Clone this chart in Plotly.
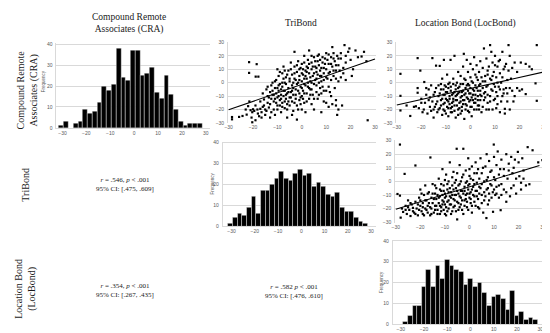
import plotly.graph_objects as go

W, H = 550, 333

# ---------------- data ----------------
cra_bins = [-30.5, -28.5, -26.5, -24.5, -22.5, -20.5, -18.5, -16.5, -14.5, -12.5,
            -10.5, -8.5, -6.5, -4.5, -2.5, -0.5, 1.5, 3.5, 5.5, 7.5,
            9.5, 11.5, 13.5, 15.5, 17.5, 19.5, 21.5, 23.5, 25.5, 27.5]
cra_counts = [1, 3, 0, 2, 3, 9, 7, 8, 12, 20, 18, 21, 38, 24, 23, 37, 37, 25, 26, 29,
              17, 14, 25, 16, 9, 3, 1, 2, 2, 2]

tri_bins = [-30.5, -28.5, -26.5, -24.5, -22.5, -20.5, -18.5, -16.5, -14.5, -12.5,
            -10.5, -8.5, -6.5, -4.5, -2.5, -0.5, 1.5, 3.5, 5.5, 7.5,
            9.5, 11.5, 13.5, 15.5, 17.5, 19.5, 21.5, 23.5, 25.5, 27.5]
tri_counts = [1, 4, 6, 5, 9, 14, 6, 17, 17, 20, 23, 26, 23, 22, 25, 27, 24, 25, 19, 21,
              19, 15, 14, 16, 9, 7, 7, 4, 2, 1]

loc_bins = [-28, -26, -24, -22, -20, -18, -16, -14, -12, -10, -8, -6, -4, -2, 0,
            2, 4, 6, 8, 10, 12, 14, 16, 18, 20, 22, 24, 26, 28]
loc_counts = [1, 4, 9, 9, 18, 26, 18, 28, 22, 31, 28, 26, 25, 19, 22, 18, 20, 15, 9, 13,
              14, 12, 7, 16, 4, 6, 2, 3, 2]

# CRA (x) vs TriBond (y)
cra_tri_points = [
    (-30.7, -12), (-28.6, -25.6), (-28.6, -27.3), (-25.7, -25.5), (-24.3, -24.8), (-23, -20),
    (-22.6, -23.8), (-22, -17.5), (-21.6, 15.3), (-21.6, 7.3), (-21.5, -14), (-21, -20.5),
    (-20.6, -26), (-20.3, -29.5), (-20.3, -22), (-20, -19.8), (-19.5, -21), (-19, -28),
    (-18.9, 4.5), (-18.5, 13.8), (-18.2, -20), (-17.8, 4.5), (-17.5, -25), (-17, -19.5),
    (-16.5, -22), (-16, -18), (-16, -8), (-15.5, -12.5), (-15, -20), (-15, -24), (-14.5, -5),
    (-14, -10), (-14, -15), (-13.5, -18.5), (-13, -26), (-13, -7), (-12.5, -2), (-12.5, -12),
    (-12, 0), (-12, -9), (-11.5, -14), (-11.5, -20), (-11, -4), (-11, -24), (-10.5, -8),
    (-10.5, 2), (-10, 10), (-10, -11), (-10, -17), (-9.5, -6), (-9.5, 5), (-9, -13), (-9, -1),
    (-8.5, -9), (-8.5, -22), (-8, 7), (-8, -3), (-8, -15), (-7.5, -10), (-7.5, 12), (-7, -6),
    (-7, 0), (-7, -19), (-6.5, -12), (-6.5, 4), (-6, -8), (-6, -26), (-6, -16), (-5.5, 9),
    (-5.5, -4), (-5, -11), (-5, 1), (-4.5, -7), (-4.5, 15), (-4, -14), (-4, -2), (-4, 6),
    (-3.5, -21), (-3.5, -9), (-3, 12), (-3, 3), (-3, 23), (-2.5, -5), (-2.5, -12), (-2, 8),
    (-2, -17), (-2, -27.5), (-1.5, 0), (-1.5, 16), (-1, -8), (-1, -13), (-1, 5), (-0.5, 11),
    (-0.5, -3), (0, 1), (0, -10), (0, -20), (0, 14), (0.5, 6), (0.5, -6), (1, -1), (1, -15),
    (1, 20), (1.5, 9), (1.5, -22), (2, 3), (2, -8), (2, 12), (2.5, -3), (2.5, 17), (3, 7),
    (3, -12), (3, 24), (3.5, 1), (3.5, -5), (4, 10), (4, 15), (4, -16), (4.5, 5), (4.5, -9),
    (5, -1), (5, 19), (5, -20), (5.5, 12), (6, 3), (6, 8), (6, -7), (6.5, 16), (6.5, -12),
    (7, 0), (7, 21), (7.5, 5), (7.5, -4), (8, 11), (8, -8), (8, -22), (8.5, 15), (9, 2),
    (9, 7), (9, -14), (9.5, 18), (10, 10), (10, -6), (10, 22), (10.5, 3), (11, 14), (11, -3),
    (11, -18), (11.5, 8), (12, 19), (12, -10), (12.5, 12), (12.5, 26.5), (13, 5), (13, 22),
    (13.5, 16), (14, -13), (14, -17), (14, 9), (14.5, -24), (14.5, 20), (15, 13), (15, 1),
    (16, 18), (16.5, -17), (17, 7), (17.5, 28), (18, 15), (19, 23), (19.5, 25.5), (20.5, 5),
    (23, 19), (24.5, 19.5), (25.5, 23), (26.5, 16), (27, -28),
    (-19, -17), (-18, -23), (-17, -14), (-16.5, -26), (-15.5, -17), (-14.5, -21), (-14, -3),
    (-13.5, -11), (-13, -16), (-12.5, -22), (-12, -6), (-11.5, -9), (-11, -12), (-11, 1),
    (-10.5, -15), (-10, -4), (-10, -20), (-9.5, -10), (-9.5, -2), (-9, -17), (-9, 8),
    (-8.5, -5), (-8.5, -12), (-8, 0), (-8, -18), (-7.5, -6), (-7.5, 3), (-7, -14), (-7, 9),
    (-6.5, -9), (-6.5, -1), (-6, -20), (-6, 6), (-5.5, -14), (-5.5, -7), (-5, 3), (-5, -17),
    (-4.5, -11), (-4.5, 10), (-4, -6), (-4, -24), (-3.5, 0), (-3.5, -4), (-3, -15), (-3, 7),
    (-2.5, -9), (-2.5, 2), (-2, -1), (-2, 13), (-1.5, -6), (-1.5, -20), (-1, 2), (-1, 10),
    (-0.5, -11), (-0.5, -16), (0, 7), (0, -4), (0.5, 10), (0.5, -12), (1, 3), (1, -8), (1, 15),
    (1.5, -2), (1.5, 5), (2, -14), (2, 8), (2.5, 0), (2.5, 11), (3, -4), (3, 14), (3.5, -9),
    (3.5, 4), (4, 0), (4, -5), (4, 20), (4.5, 12), (5, 7), (5, -12), (5.5, 2), (5.5, 16),
    (6, -2), (6, 11), (6.5, 6), (6.5, 20), (7, -9), (7, 13), (7.5, 9), (7.5, 17), (8, 1),
    (8, 5), (8.5, -3), (8.5, 19), (9, 11), (9, -6), (9.5, 14), (10, 4), (10, -15), (10.5, 17),
    (11, 7), (11, 21), (11.5, -7), (12, 2), (12, 14), (12.5, -16), (13, 9), (13, 18),
    (13.5, -4), (14, 3), (14, 13), (15, 18), (15, -20), (15.5, 9), (16, 4), (16, 22), (17, 11),
    (18, 20), (18, 2), (20, 17), (21, 10), (22, 24),
]

# CRA (x) vs LocBond (y)
cra_loc_points = [
    (-30.7, -13.4), (-28.5, 6.6), (-28.5, -9.8), (-28.5, -20.7), (-26, -17), (-24.5, -24.8),
    (-23, -18), (-22.2, -17.6), (-21.5, 18.3), (-21.5, -4), (-21.5, -7.5), (-21, -19),
    (-20.4, 9), (-20, -12), (-19.5, -22), (-18.8, 0.5), (-18.5, -15), (-18, -9), (-17.5, -23),
    (-17, -5), (-16.5, -18), (-16.5, -11), (-16, -2), (-15.5, 18.3), (-15.5, -14), (-15, -20),
    (-15, -26), (-14.5, -7), (-14, 12.7), (-14, -16), (-13.5, -22), (-13, -10), (-13, -2),
    (-12.5, -19), (-12.5, 12.5), (-12, -13), (-12, -5), (-11.5, -24), (-11.5, 3), (-11, -9),
    (-11, -16), (-10.8, 17), (-10.5, -2), (-10.5, -21), (-10, -12), (-10, -7), (-9.5, -18),
    (-9.5, 6), (-9, -4), (-9, -14), (-9, -25), (-8.5, -10), (-8.5, 0), (-8.1, 17), (-8, -19),
    (-8, -6), (-7.5, -15), (-7.5, -22), (-7, -8), (-7, 3), (-7, -12), (-6.5, 20), (-6.5, -17),
    (-6, -5), (-6, -10), (-6, -26), (-5.5, -13), (-5.5, 0), (-5, -20), (-5, 8), (-5, -8),
    (-4.5, -3), (-4.5, -15), (-4, -11), (-4, 5), (-4, -23), (-3.5, -7), (-3.5, -18), (-3, 12),
    (-3, -1), (-3, -13), (-2.7, 21.5), (-2.5, -9), (-2.5, -27), (-2, -4), (-2, -16), (-2, 2),
    (-1.5, -11), (-1.5, 17), (-1, -6), (-1, -21), (-1, 8), (-0.5, -2), (-0.5, -14), (0, -8),
    (0, 4), (0, -18), (0, 14), (0.5, -11), (0.5, -25), (1, 0), (1, -5), (1, 10), (1.5, -15),
    (1.5, 19), (2, -2), (2, 6), (2, -9), (2.5, -20), (2.5, 13), (3, -6), (3, 2), (3, -13),
    (3.5, 8), (3.5, -17), (4, -1), (4, 16), (4, -9), (4.5, 4), (4.5, -22), (5, -4), (5, 11),
    (5.5, 25.5), (5.5, -13), (6, 1), (6, -7), (6.5, 18), (6.5, -20), (7, 6), (7, -2), (7, -15),
    (7.5, 12), (8, 28), (8, -10), (8, 3), (8.5, 23), (8.5, -5), (9, 15), (9, -20), (9.5, 8),
    (9.5, -1), (10, -12), (10, 20), (10.5, 4), (10.5, -7), (11, 12), (11, -16), (11.5, -3),
    (12, 17), (12, 7), (12, -22), (12.5, 0), (13, 23), (13, -10), (13.5, 10), (13.5, -5),
    (14, -19.5), (14, -23), (14.5, 14), (15, 2), (15, -8), (15.5, 28), (16, 20), (16, -4),
    (17, 11), (17.5, -14), (18, 15), (19, -4), (20.5, 15), (21, -5), (22.5, 14), (22.5, -8.5),
    (24, 12), (25, 10), (26.5, -0.5), (27, -13.5), (27, 28),
    (-20, -15), (-19, -20), (-18, -4), (-17, -13), (-16, -21), (-15, -9), (-14.5, -18),
    (-14, -4), (-13.5, -14), (-13, -20), (-12.5, -8), (-12, -17), (-12, -1), (-11.5, -12),
    (-11, -20), (-11, -5), (-10.5, -15), (-10.5, -9), (-10, -23), (-10, -3), (-9.5, -13),
    (-9.5, -7), (-9, -19), (-9, -1), (-8.5, -16), (-8.5, -12), (-8, -3), (-8, -22), (-7.5, -9),
    (-7.5, -18), (-7, -14), (-7, -1), (-6.5, -7), (-6.5, -21), (-6, -13), (-6, -2), (-5.5, -17),
    (-5.5, -9), (-5, -24), (-5, -4), (-4.5, -19), (-4.5, -7), (-4, -14), (-4, -1), (-3.5, -10),
    (-3.5, -21), (-3, -6), (-3, -16), (-2.5, -13), (-2.5, 3), (-2, -8), (-2, -20), (-1.5, -2),
    (-1.5, -17), (-1, -12), (-1, -1), (-0.5, -8), (-0.5, -22), (0, -4), (0, -13), (0.5, -18),
    (0.5, 1), (1, -9), (1, -13), (1.5, -6), (1.5, -20), (2, -15), (2, -12), (2.5, -4), (2.5, 4),
    (3, -10), (3, -17), (3.5, -2), (3.5, -20), (4, -6), (4, -13), (4.5, -10), (5, 1), (5, -18),
    (5.5, -8), (6, -11), (6, 5), (6.5, -3), (7, -9), (7, 9), (7.5, -20), (8, -14), (8.5, 2),
    (9, -6), (9, 5), (9.5, -13), (10, -3), (10, 13), (10.5, -19), (11, 0), (11, -10),
    (11.5, 16), (12, -5), (12.5, -14), (13, 4), (13.5, -8), (14, 12), (14.5, -4), (15, -14),
    (15.5, 9), (16, -20), (16.5, 3), (17, -6), (18, -10), (19, 8), (20, -6),
]

# TriBond (x) vs LocBond (y)
tri_loc_points = [
    (-29.3, -9.3), (-28.3, -10.5), (-28.3, 27.1), (-28, -26.7), (-27.5, -20), (-27, -22.5),
    (-26.4, 5.5), (-26, -18), (-25.5, -24), (-25, -14), (-24.5, -21), (-24, -25.5),
    (-23.5, -17), (-23, -19.5), (-22.5, -23), (-22, 11.7), (-22, -15), (-21.5, -20), (-21, -25),
    (-20.5, -12), (-20, -18), (-20, -6), (-19.5, -22), (-19, -16), (-19, -24), (-18.5, -10),
    (-18, -20), (-18, -3), (-17.5, -14), (-17, -23), (-17, -18), (-16.5, -8), (-16, -25),
    (-15.9, 17.6), (-15.5, -12), (-15.5, -20), (-15, -16), (-15, -2), (-14.5, -23), (-14, -9),
    (-14, -18), (-13.5, -13), (-13.5, -5), (-13, -21), (-12.5, -16), (-12.5, 2), (-12, -11),
    (-12, -24), (-11.5, -7), (-11.5, -19), (-11, -14), (-11, 9), (-10.5, -21), (-10.5, -3),
    (-10, -9), (-10, -12), (-10, -17), (-9.5, 5), (-9.5, -25), (-9, -6), (-9, -15), (-8.5, -20),
    (-8.5, 0), (-8, -11), (-8, 14), (-7.5, -8), (-7.5, -17), (-7, -3), (-7, -22), (-6.5, -13),
    (-6.5, 7), (-6, -10), (-6, -18), (-5.5, -5), (-5.5, 1), (-5.2, 24), (-5, -15), (-5, -28),
    (-4.5, -9), (-4.5, -21), (-4, -2), (-4, 12), (-3.5, -12), (-3.5, -17), (-3, 3), (-3, -7),
    (-2.5, 24), (-2.5, -24), (-2, -4), (-2, -14), (-1.5, 8), (-1.5, -10), (-1, -19), (-1, 0),
    (-0.5, -6), (-0.5, 17), (0, -12), (0, 4), (0, -2), (0.5, -16), (0.5, -8), (1, 11),
    (1, -23), (1.5, -4), (1.5, 1), (2, -11), (2, 6), (2.5, -18), (2.5, 14), (3, -1), (3, -7),
    (3.5, 9), (3.5, -13), (4, 2), (4, -20), (4.5, -5), (4.5, 17), (5, -10), (5, 6),
    (5.6, -23), (6, 0), (6, -14), (6.5, 11), (6.9, -27), (7, -6), (7, 20), (7.5, 3),
    (7.5, -17), (8, -9), (8, 15), (8.5, -2), (9, 8), (9, -12), (9.6, -22.4), (9.9, 27.1),
    (10, -6), (10, 18), (10.5, 1), (11, 12), (11, -9), (11.5, 22), (12, -3), (12, 5),
    (12.7, -21.2), (13, 16), (13, -10), (14, 9), (14, -6), (15, -15), (15, 20), (15.5, 2),
    (16, 13), (16.5, -11), (17, 18), (17.5, 6), (18, -3), (18.5, 16), (19, -9), (19.7, 21.7),
    (20.3, 3.8), (21, -1), (21.5, 17), (22, 2), (23, -3), (23.7, 25.2), (24.4, -2.1),
    (25.7, 22.9), (28, 14), (29.7, 15.7),
    (-26, -21), (-25, -19), (-24, -16), (-23, -22), (-22, -24), (-21, -17), (-20.5, -21),
    (-20, -14), (-19.5, -9), (-19, -19), (-18.5, -25), (-18, -14), (-17.5, -21), (-17, -9),
    (-16.5, -16), (-16, -19), (-15.5, -24), (-15, -9), (-14.5, -13), (-14, -21), (-14, -3),
    (-13.5, -18), (-13, -10), (-13, -24), (-12.5, -12), (-12, -6), (-12, -18), (-11.5, -22),
    (-11.5, -2), (-11, -10), (-11, -17), (-10.5, -7), (-10.5, -15), (-10, -24), (-10, 1),
    (-9.5, -11), (-9.5, -19), (-9, -2), (-9, -22), (-8.5, -8), (-8.5, -14), (-8, -17), (-8, -5),
    (-7.5, -12), (-7.5, -24), (-7, -10), (-7, 3), (-6.5, -19), (-6.5, -6), (-6, -14), (-6, -1),
    (-5.5, -10), (-5.5, -22), (-5, -7), (-5, 6), (-4.5, -16), (-4.5, -3), (-4, -11), (-4, -19),
    (-3.5, -7), (-3.5, 0), (-3, -14), (-3, -21), (-2.5, -9), (-2.5, 5), (-2, -18), (-2, -7),
    (-1.5, -13), (-1.5, -1), (-1, -9), (-1, -15), (-0.5, -3), (-0.5, -21), (0, -9), (0, 9),
    (0.5, -13), (0.5, 2), (1, -6), (1, -18), (1.5, -10), (2, -2), (2, -15), (2.5, -7), (3, -11),
    (3, 6), (3.5, -19), (4, -4), (4, -9), (5, -2), (5, -16), (5.5, 10), (6, -8), (6.5, -11),
    (7, 1), (7.5, -5), (8, -14), (8.5, 7), (9, -3), (9.5, -8), (10, 3), (10.5, -10), (11, -4),
    (12, -12), (12.5, 9), (13, -2), (14, 4), (15, -8), (16, 8), (17, -5), (18, 10), (19, 2),
    (20, 14), (21, -6), (22, 8),
]

# fitted lines (endpoints)
lineA_x = [-30, 30]
lineA_y = [-20.2, 17.6]
lineB_x = [-30, 30]
lineB_y = [-16.6, 8.0]
lineC_x = [-30, 28.5]
lineC_y = [-20.5, 11.7]

col_titles = ["Compound Remote<br>Associates (CRA)", "TriBond", "Location Bond (LocBond)"]
row_titles = ["Compound Remote<br>Associates (CRA)", "TriBond", "Location Bond<br>(LocBond)"]
stat_texts = [
    "<i>r</i> = .546, <i>p</i> < .001<br>95% CI: [.475, .609]",
    "<i>r</i> = .354, <i>p</i> < .001<br>95% CI: [.267, .435]",
    "<i>r</i> = .582 <i>p</i> < .001<br>95% CI: [.476, .610]",
]
scatter_ticks = [-30, -20, -10, 0, 10, 20, 30]
hist_y_ticks = [0, 10, 20, 30, 40]
hist_x_ticks = [-30, -20, -10, 0, 10, 20, 30]

# ---------------- layout helpers ----------------
SERIF = "Liberation Serif"
TICKFONT = dict(family="Liberation Sans", size=5, color="#595959")
GRID = "#d9d9d9"


def dom_from(p_a, v_a, p_b, v_b, r0, r1, total, flip=False):
    s = (p_b - p_a) / (v_b - v_a)
    q0 = p_a + (r0 - v_a) * s
    q1 = p_a + (r1 - v_a) * s
    lo, hi = min(q0, q1), max(q0, q1)
    if flip:
        return [1 - hi / total, 1 - lo / total]
    return [lo / total, hi / total]


fig = go.Figure()

panels = {
    1: dict(kind="hist", xr=[-32.5, 31.6], xp=(51, 196), yr=[0, 40.5], yp=(119, 34)),
    2: dict(kind="scat", xr=[-30.2, 30.4], xp=(219, 367), yr=[-30.3, 30.3], yp=(114, 32)),
    3: dict(kind="scat", xr=[-30.2, 30.4], xp=(389, 538), yr=[-30.3, 30.3], yp=(114, 32)),
    4: dict(kind="hist", xr=[-33.8, 32.1], xp=(222, 363), yr=[0, 40.5], yp=(219, 134)),
    5: dict(kind="scat", xr=[-30.2, 30.4], xp=(388, 537), yr=[-30.3, 30.3], yp=(215, 132)),
    6: dict(kind="hist", xr=[-33.4, 34.7], xp=(393, 534), yr=[0, 40.5], yp=(319, 234)),
}

layout_axes = {}
for i, p in panels.items():
    xs = "xaxis" if i == 1 else f"xaxis{i}"
    ys = "yaxis" if i == 1 else f"yaxis{i}"
    xd = dom_from(p["xp"][0], -30, p["xp"][1], 30, p["xr"][0], p["xr"][1], W)
    if p["kind"] == "hist":
        yd = dom_from(p["yp"][0], 0, p["yp"][1], 40, p["yr"][0], p["yr"][1], H, flip=True)
    else:
        yd = dom_from(p["yp"][0], -30, p["yp"][1], 30, p["yr"][0], p["yr"][1], H, flip=True)
    anchor_x = "y" if i == 1 else f"y{i}"
    anchor_y = "x" if i == 1 else f"x{i}"
    if p["kind"] == "hist":
        layout_axes[xs] = dict(domain=xd, range=p["xr"], anchor=anchor_x, tickvals=hist_x_ticks,
                               showgrid=False, zeroline=False, showline=True, linecolor=GRID,
                               linewidth=1, ticks="", tickfont=TICKFONT, ticklabelstandoff=0)
        layout_axes[ys] = dict(domain=yd, range=p["yr"], anchor=anchor_y, tickvals=hist_y_ticks,
                               showgrid=True, gridcolor=GRID, gridwidth=1, zeroline=False,
                               showline=True, linecolor=GRID, linewidth=1, ticks="",
                               tickfont=TICKFONT, ticklabelstandoff=2)
    else:
        layout_axes[xs] = dict(domain=xd, range=p["xr"], anchor=anchor_x, tickvals=scatter_ticks,
                               showgrid=False, zeroline=False, showline=False, ticks="",
                               tickfont=TICKFONT, ticklabelstandoff=0)
        layout_axes[ys] = dict(domain=yd, range=p["yr"], anchor=anchor_y, tickvals=scatter_ticks,
                               showgrid=True, gridcolor=GRID, gridwidth=1, zeroline=False,
                               showline=True, linecolor=GRID, linewidth=1, ticks="",
                               tickfont=TICKFONT, ticklabelstandoff=2)

# histograms
for i, bins, counts in [(1, cra_bins, cra_counts), (4, tri_bins, tri_counts), (6, loc_bins, loc_counts)]:
    fig.add_trace(go.Bar(x=bins, y=counts, width=2,
                         marker=dict(color="black", line=dict(color="white", width=0.4)),
                         xaxis="x" if i == 1 else f"x{i}", yaxis="y" if i == 1 else f"y{i}",
                         showlegend=False, hoverinfo="skip"))

# scatters
for i, pts, lx, ly in [(2, cra_tri_points, lineA_x, lineA_y),
                       (3, cra_loc_points, lineB_x, lineB_y),
                       (5, tri_loc_points, lineC_x, lineC_y)]:
    px = [a for a, b in pts]
    py = [b for a, b in pts]
    fig.add_trace(go.Scatter(x=px, y=py, mode="markers", cliponaxis=False,
                             marker=dict(color="black", size=2.2, symbol="square"),
                             xaxis=f"x{i}", yaxis=f"y{i}", showlegend=False, hoverinfo="skip"))
    fig.add_trace(go.Scatter(x=lx, y=ly, mode="lines", cliponaxis=False,
                             line=dict(color="black", width=1.1),
                             xaxis=f"x{i}", yaxis=f"y{i}", showlegend=False, hoverinfo="skip"))

annotations = []


def ann(text, px, py, size, angle=0, color="#1a1a1a"):
    annotations.append(dict(text=text, x=px / W, y=1 - py / H, xref="paper", yref="paper",
                            xanchor="center", yanchor="middle", showarrow=False,
                            textangle=angle, font=dict(family=SERIF, size=size, color=color)))


ann(col_titles[0], 118, 13, 9.5)
ann(col_titles[1], 292, 12, 9.5)
ann(col_titles[2], 459, 13, 9.5)
ann(row_titles[0], 16, 80, 10, angle=-90)
ann(row_titles[1], 14, 177, 10, angle=-90)
ann(row_titles[2], 14, 283, 10, angle=-90)
ann(stat_texts[0], 114, 177, 7)
ann(stat_texts[1], 114, 285, 7)
ann(stat_texts[2], 285, 286, 7)

for fx, fy in [(32, 72), (203, 176), (373, 276)]:
    annotations.append(dict(text="Frequency", x=fx / W, y=1 - fy / H, xref="paper", yref="paper",
                            xanchor="center", yanchor="middle", showarrow=False, textangle=-90,
                            font=dict(family="Liberation Sans", size=4.5, color="#595959")))

fig.update_layout(width=W, height=H, margin=dict(l=0, r=0, t=0, b=0),
                  paper_bgcolor="white", plot_bgcolor="white", bargap=0,
                  annotations=annotations, **layout_axes)

fig.write_html("out.html")
